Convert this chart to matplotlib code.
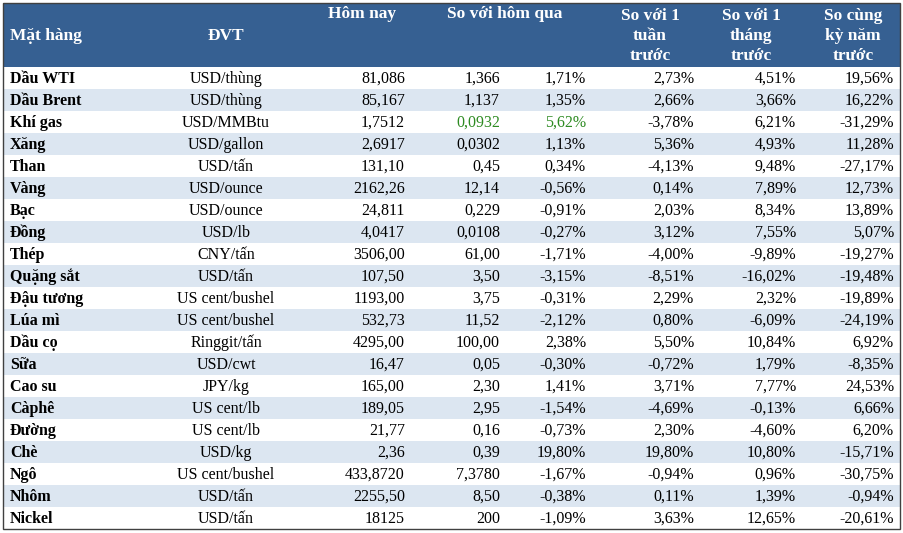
import matplotlib.pyplot as plt
from matplotlib.patches import Rectangle

items = ["Dầu WTI", "Dầu Brent", "Khí gas", "Xăng", "Than", "Vàng", "Bạc", "Đồng",
         "Thép", "Quặng sắt", "Đậu tương", "Lúa mì", "Dầu cọ", "Sữa", "Cao su",
         "Càphê", "Đường", "Chè", "Ngô", "Nhôm", "Nickel"]
units = ["USD/thùng", "USD/thùng", "USD/MMBtu", "USD/gallon", "USD/tấn", "USD/ounce",
         "USD/ounce", "USD/lb", "CNY/tấn", "USD/tấn", "US cent/bushel", "US cent/bushel",
         "Ringgit/tấn", "USD/cwt", "JPY/kg", "US cent/lb", "US cent/lb", "USD/kg",
         "US cent/bushel", "USD/tấn", "USD/tấn"]
today = ["81,086", "85,167", "1,7512", "2,6917", "131,10", "2162,26", "24,811", "4,0417",
         "3506,00", "107,50", "1193,00", "532,73", "4295,00", "16,47", "165,00", "189,05",
         "21,77", "2,36", "433,8720", "2255,50", "18125"]
chg_day = ["1,366", "1,137", "0,0932", "0,0302", "0,45", "12,14", "0,229", "0,0108",
           "61,00", "3,50", "3,75", "11,52", "100,00", "0,05", "2,30", "2,95", "0,16",
           "0,39", "7,3780", "8,50", "200"]
pct_day = ["1,71%", "1,35%", "5,62%", "1,13%", "0,34%", "-0,56%", "-0,91%", "-0,27%",
           "-1,71%", "-3,15%", "-0,31%", "-2,12%", "2,38%", "-0,30%", "1,41%", "-1,54%",
           "-0,73%", "19,80%", "-1,67%", "-0,38%", "-1,09%"]
pct_week = ["2,73%", "2,66%", "-3,78%", "5,36%", "-4,13%", "0,14%", "2,03%", "3,12%",
            "-4,00%", "-8,51%", "2,29%", "0,80%", "5,50%", "-0,72%", "3,71%", "-4,69%",
            "2,30%", "19,80%", "-0,94%", "0,11%", "3,63%"]
pct_month = ["4,51%", "3,66%", "6,21%", "4,93%", "9,48%", "7,89%", "8,34%", "7,55%",
             "-9,89%", "-16,02%", "2,32%", "-6,09%", "10,84%", "1,79%", "7,77%", "-0,13%",
             "-4,60%", "10,80%", "0,96%", "1,39%", "12,65%"]
pct_year = ["19,56%", "16,22%", "-31,29%", "11,28%", "-27,17%", "12,73%", "13,89%", "5,07%",
            "-19,27%", "-19,48%", "-19,89%", "-24,19%", "6,92%", "-8,35%", "24,53%", "6,66%",
            "6,20%", "-15,71%", "-30,75%", "-0,94%", "-20,61%"]
green_rows = ["Khí gas"]

FONT = "Liberation Serif"
HEAD = "#366092"
STRIPE = "#dce6f1"

fig = plt.figure(figsize=(9.04, 5.33), dpi=100)
ax = fig.add_axes([0, 0, 1, 1])
ax.set_xlim(0, 904)
ax.set_ylim(533, 0)
ax.axis("off")

left, right = 3, 900
top, head_h, row_h = 3, 64, 22.0

ax.add_patch(Rectangle((left, top), right - left, head_h, color=HEAD, lw=0))
hkw = dict(color="white", fontweight="bold", fontsize=12.5, family=FONT)
ax.text(10, top + 33, "Mặt hàng", ha="left", va="center", **hkw)
ax.text(226, top + 33, "ĐVT", ha="center", va="center", **hkw)
ax.text(362, top + 11, "Hôm nay", ha="center", va="center", **hkw)
ax.text(505, top + 11, "So với hôm qua", ha="center", va="center", **hkw)
for x, lbl in [(650, "So với 1\ntuần\ntrước"), (751, "So với 1\ntháng\ntrước"),
               (853, "So cùng\nkỳ năm\ntrước")]:
    ax.text(x, top + 33, lbl, ha="center", va="center", linespacing=1.3, **hkw)

y0 = top + head_h
tkw = dict(fontsize=11.5, family=FONT, va="center")
for i, name in enumerate(items):
    y = y0 + i * row_h
    if i % 2 == 1:
        ax.add_patch(Rectangle((left, y), right - left, row_h, color=STRIPE, lw=0))
    yc = y + row_h / 2 + 1
    col = "#2e8b22" if name in green_rows else "black"
    ax.text(10, yc, name, ha="left", fontweight="bold", **tkw)
    ax.text(226, yc, units[i], ha="center", **tkw)
    ax.text(405, yc, today[i], ha="right", **tkw)
    ax.text(500, yc, chg_day[i], ha="right", color=col, **tkw)
    ax.text(586, yc, pct_day[i], ha="right", color=col, **tkw)
    ax.text(694, yc, pct_week[i], ha="right", **tkw)
    ax.text(796, yc, pct_month[i], ha="right", **tkw)
    ax.text(894, yc, pct_year[i], ha="right", **tkw)

bottom = y0 + len(items) * row_h
ax.add_patch(Rectangle((left, top), right - left, bottom - top, fill=False, ec="#404040", lw=1))

fig.savefig("out.png", dpi=100)
